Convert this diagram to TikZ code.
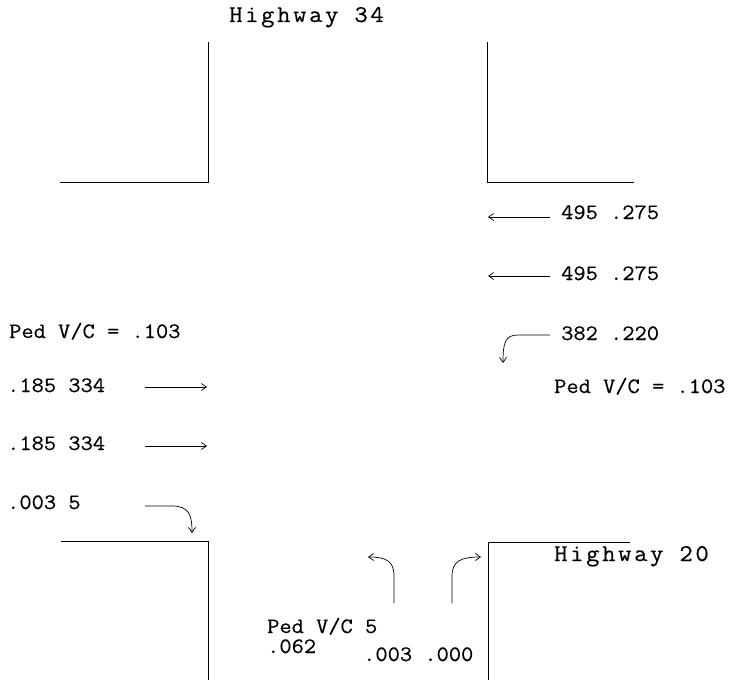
\documentclass[tikz,border=0pt]{standalone}
\usepackage{fontspec}
\setmonofont{Latin Modern Mono}[FakeStretch=1.08, FakeBold=0.4]
\newfontfamily\hwyfont{Latin Modern Mono}[FakeStretch=1.08, FakeBold=0.4, LetterSpace=11]
\usetikzlibrary{arrows.meta, positioning}

\tikzset{
  lbl/.style={font=\ttfamily\fontsize{22}{26}\selectfont, inner sep=0pt, anchor=base west},
  hwy/.style={font=\hwyfont\fontsize{24}{28}\selectfont, inner sep=0pt, anchor=base west},
  curb/.style={line width=0.9pt},
  mv/.style={line width=0.7pt, -{Straight Barb[length=5pt,width=7pt]}},
}

\begin{document}
\begin{tikzpicture}[x=1pt,y=-1pt]
\useasboundingbox (0,0) rectangle (730,682);

% Curb lines at the four corners
\draw[curb] (208,42) -- (208,182) -- (60,182);
\draw[curb] (487,42) -- (487,182) -- (634,182);
\draw[curb] (61,541) -- (208,541) -- (208,680);
\draw[curb] (630,542) -- (488,542) -- (488,680);

% Road names
\node[hwy] (hw34) at (229,22) {Highway 34};
\node[hwy] (hw20) at (554,561) {Highway 20};

% Westbound: volumes, v/c and movements
\node[lbl] (wb1) at (561,219) {495 .275};
\node[lbl] (wb2) at (561,280) {495 .275};
\node[lbl] (wbl) at (561,340) {382 .220};
\node[lbl] (pedE) at (554,393) {Ped V/C = .103};
\coordinate (wb1t) at (550,217);
\coordinate (wb1h) at (488,217);
\coordinate (wb2t) at (550,276);
\coordinate (wb2h) at (488,276);
\coordinate (wblt) at (550,335);
\coordinate (wblh) at (503,363);
\draw[mv] (wb1t) -- (wb1h);
\draw[mv] (wb2t) -- (wb2h);
\draw[mv] (wblt) -- (518,335) .. controls (505,335) and (503,343) .. (wblh);

% Eastbound: v/c, volumes and movements
\node[lbl] (pedW) at (9,338) {Ped V/C = .103};
\node[lbl] (eb1) at (7,392) {.185 334};
\node[lbl] (eb2) at (7,450) {.185 334};
\node[lbl] (ebl) at (7,509) {.003 5};
\coordinate (eb1t) at (145,387);
\coordinate (eb1h) at (207,387);
\coordinate (eb2t) at (145,446);
\coordinate (eb2h) at (207,446);
\coordinate (eblt) at (145,506);
\coordinate (eblh) at (192,533);
\draw[mv] (eb1t) -- (eb1h);
\draw[mv] (eb2t) -- (eb2h);
\draw[mv] (eblt) -- (172,506) .. controls (189,506) and (192,515) .. (eblh);

% Northbound: left and right turns
\node[lbl] (pedS) at (267,633) {Ped V/C 5};
\node[lbl] (nbp) at (267,653) {.062};
\node[lbl] (nbv) at (363,661) {.003 .000};
\coordinate (nblt) at (394,603);
\coordinate (nblh) at (368,557);
\coordinate (nbrt) at (452,603);
\coordinate (nbrh) at (481,557);
\draw[mv] (nblt) -- (394,576) .. controls (394,561) and (386,557) .. (nblh);
\draw[mv] (nbrt) -- (452,576) .. controls (452,561) and (461,557) .. (nbrh);

\end{tikzpicture}
\end{document}
